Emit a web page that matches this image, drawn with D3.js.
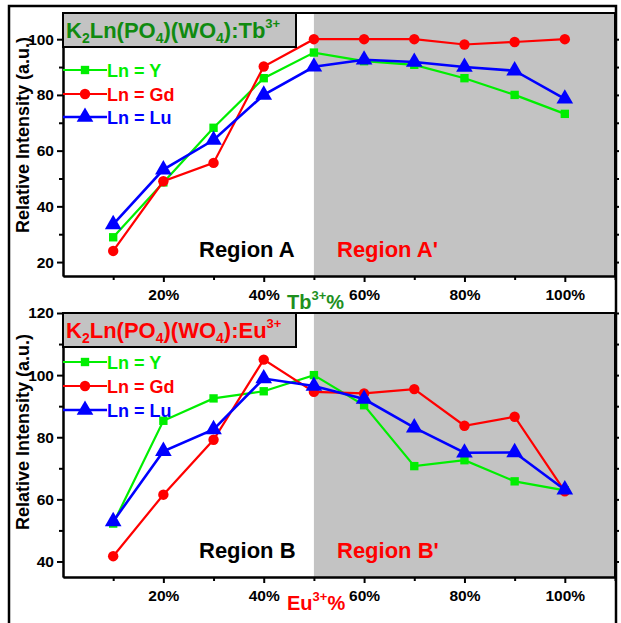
<!DOCTYPE html>
<html>
<head>
<meta charset="utf-8">
<script src="https://cdn.jsdelivr.net/npm/d3@7"></script>
<style>
  body { margin: 0; background: #fff; }
  svg { font-family: 'Liberation Sans', Arial, sans-serif; font-weight: bold; }
  .axis path, .axis line { stroke: #000; stroke-width: 2; }
  .axis text { font-size: 15.5px; font-weight: bold; fill: #000; font-family: 'Liberation Sans', Arial, sans-serif; }
</style>
</head>
<body>
<script>
// concentration of the dopant (%)
const conc = [10, 20, 30, 40, 50, 60, 70, 80, 90, 100]

// Tb3+ panel
const tbY = [28.9, 48.6, 68.2, 86, 95.2, 92.1, 90.8, 86, 80, 73.2]
const tbGd = [24, 49, 55.6, 90.2, 100, 100, 100, 98.1, 99, 100]
const tbLu = [33.5, 53.2, 63.8, 80, 90.1, 92.6, 91.8, 90, 88.7, 78.6]

// Eu3+ panel
const euY = [52.2, 85.3, 92.5, 94.8, 100, 90.3, 70.7, 72.6, 65.8, 62.9]
const euGd = [41.7, 61.5, 79.2, 105, 94.6, 94.1, 95.5, 83.7, 86.6, 62.6]
const euLu = [52.9, 75.5, 82.5, 98.9, 96.5, 92.3, 83.1, 75, 75.1, 63.1]

const seriesNames = ['Ln = Y', 'Ln = Gd', 'Ln = Lu']
const seriesColors = ['#00ee00', '#ff0000', '#0000ff']
const seriesShapes = [d3.symbolSquare, d3.symbolCircle, d3.symbolTriangle]
const seriesSizes = [70, 85, 120]

const width = 621
const height = 623

const svg = d3.select('body').append('svg')
  .attr('width', width)
  .attr('height', height)

// outer frame
svg.append('rect')
  .attr('x', 9).attr('y', 6)
  .attr('width', 607).attr('height', 630)
  .attr('fill', 'none').attr('stroke', '#000').attr('stroke-width', 2.5)

const xscale = d3.scaleLinear().domain([0, 110]).range([63, 615])

function drawPanel(p) {
  const yscale = d3.scaleLinear().domain(p.ydomain).range([p.bottom, p.top])
  const g = svg.append('g')
  const x0 = xscale.range()[0], x1 = xscale.range()[1]

  // shaded region (50% .. end)
  g.append('rect')
    .attr('x', xscale(50)).attr('y', p.top)
    .attr('width', x1 - xscale(50)).attr('height', p.bottom - p.top)
    .attr('fill', '#c3c3c3')

  // top + right border
  g.append('path')
    .attr('d', `M${x0},${p.top}H${x1}V${p.bottom}`)
    .attr('fill', 'none').attr('stroke', '#000').attr('stroke-width', 2)

  // right side ticks
  g.append('g').attr('class', 'axis')
    .attr('transform', `translate(${x1},0)`)
    .call(d3.axisRight(yscale).tickValues(p.ymajor.concat(p.yminor)).tickSize(4).tickFormat(''))
    .call(a => a.select('.domain').remove())

  // x axis
  g.append('g').attr('class', 'axis')
    .attr('transform', `translate(0,${p.bottom})`)
    .call(d3.axisBottom(xscale).tickValues([10, 30, 50, 70, 90, 110]).tickSize(4).tickFormat('').tickSizeOuter(0))
  g.append('g').attr('class', 'axis')
    .attr('transform', `translate(0,${p.bottom})`)
    .call(d3.axisBottom(xscale).tickValues([20, 40, 60, 80, 100]).tickSize(6).tickPadding(7)
      .tickFormat(d => d + '%').tickSizeOuter(0))

  // y axis
  g.append('g').attr('class', 'axis')
    .attr('transform', `translate(${x0},0)`)
    .call(d3.axisLeft(yscale).tickValues(p.yminor).tickSize(4).tickFormat('').tickSizeOuter(0))
  g.append('g').attr('class', 'axis')
    .attr('transform', `translate(${x0},0)`)
    .call(d3.axisLeft(yscale).tickValues(p.ymajor).tickSize(6).tickPadding(3).tickSizeOuter(0))

  // y axis title
  g.append('text')
    .attr('transform', `translate(29,${p.ylabelY}) rotate(-90)`)
    .attr('text-anchor', 'middle')
    .attr('font-size', 18)
    .text('Relative Intensity (a.u.)')

  // x axis title
  const xt = g.append('text')
    .attr('x', 287).attr('y', p.bottom + 33)
    .attr('font-size', 20).attr('fill', p.xtitleColor)
  xt.append('tspan').text(p.ion)
  xt.append('tspan').attr('font-size', 13).attr('dy', -9).text('3+')
  xt.append('tspan').attr('dy', 9).text('%')

  // region labels
  g.append('text').attr('x', 199).attr('y', p.bottom - 19)
    .attr('font-size', 22).attr('fill', '#000').text(p.regionA)
  g.append('text').attr('x', 337).attr('y', p.bottom - 19)
    .attr('font-size', 22).attr('fill', '#ff0000').text(p.regionB)

  // lines and markers
  const line = d3.line().x((d, i) => xscale(conc[i])).y(d => yscale(d))
  p.series.forEach((s, k) => {
    g.append('path')
      .datum(s)
      .attr('d', line)
      .attr('fill', 'none')
      .attr('stroke', seriesColors[k])
      .attr('stroke-width', k === 2 ? 2.6 : 2.2)
    g.selectAll('.m' + k)
      .data(s)
      .join('path')
      .attr('class', 'm' + k)
      .attr('transform', (d, i) => `translate(${xscale(conc[i])},${yscale(d)})`)
      .attr('d', d3.symbol().type(seriesShapes[k]).size(seriesSizes[k]))
      .attr('fill', seriesColors[k])
  })

  // title box
  g.append('rect')
    .attr('x', x0).attr('y', p.top)
    .attr('width', 233).attr('height', 34)
    .attr('fill', '#c3c3c3').attr('stroke', '#000').attr('stroke-width', 2)
  const t = g.append('text')
    .attr('x', 66).attr('y', p.top + 25)
    .attr('font-size', 22).attr('fill', p.titleColor)
  t.append('tspan').text('K')
  t.append('tspan').attr('font-size', 14).attr('dy', 5).text('2')
  t.append('tspan').attr('dy', -5).text('Ln(PO')
  t.append('tspan').attr('font-size', 14).attr('dy', 5).text('4')
  t.append('tspan').attr('dy', -5).text(')(WO')
  t.append('tspan').attr('font-size', 14).attr('dy', 5).text('4')
  t.append('tspan').attr('dy', -5).text('):' + p.ion)
  t.append('tspan').attr('font-size', 13).attr('dy', -10).text('3+')

  // legend
  seriesNames.forEach((name, k) => {
    const ly = p.legendY[k]
    g.append('line')
      .attr('x1', x0).attr('x2', 107).attr('y1', ly).attr('y2', ly)
      .attr('stroke', seriesColors[k]).attr('stroke-width', k === 2 ? 2.6 : 2.2)
    g.append('path')
      .attr('transform', `translate(85,${ly})`)
      .attr('d', d3.symbol().type(seriesShapes[k]).size(seriesSizes[k]))
      .attr('fill', seriesColors[k])
    g.append('text')
      .attr('x', 107).attr('y', ly + 6.5)
      .attr('font-size', 18).attr('fill', seriesColors[k])
      .text(name)
  })
}

drawPanel({
  top: 13, bottom: 276,
  ydomain: [15, 109.4],
  ymajor: [20, 40, 60, 80, 100],
  yminor: [30, 50, 70, 90],
  ylabelY: 135,
  ion: 'Tb',
  titleColor: '#108a10',
  xtitleColor: '#1e901e',
  regionA: 'Region A', regionB: "Region A'",
  series: [tbY, tbGd, tbLu],
  legendY: [70, 94, 117]
})

drawPanel({
  top: 313, bottom: 577,
  ydomain: [35, 120],
  ymajor: [40, 60, 80, 100, 120],
  yminor: [50, 70, 90, 110],
  ylabelY: 432,
  ion: 'Eu',
  titleColor: '#ff0000',
  xtitleColor: '#ff0000',
  regionA: 'Region B', regionB: "Region B'",
  series: [euY, euGd, euLu],
  legendY: [362, 386, 410]
})
</script>
</body>
</html>
